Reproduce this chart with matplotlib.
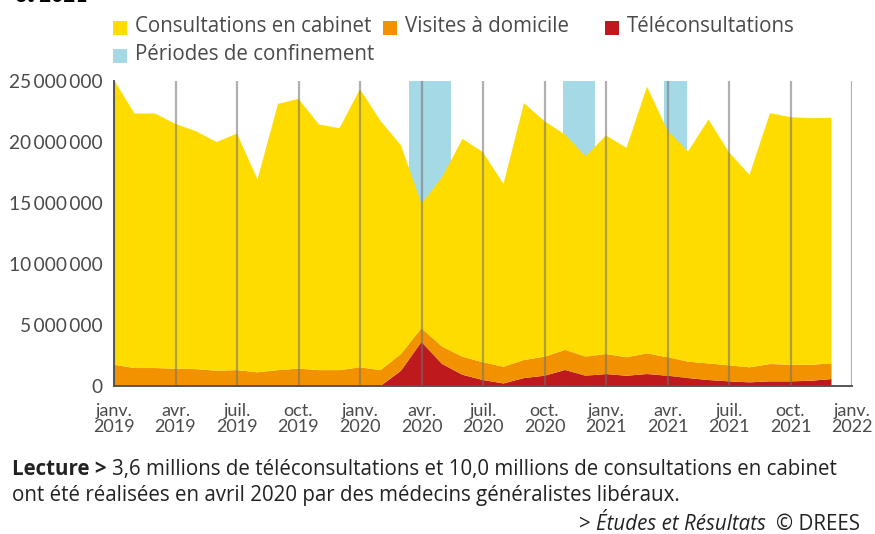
import matplotlib
matplotlib.use("Agg")
import matplotlib.pyplot as plt
from matplotlib.patches import Rectangle

plt.rcParams['font.family'] = ['Lato', 'DejaVu Sans']

# ---- data (millions) ----
months = list(range(36))  # janv. 2019 .. déc. 2021
teleconsultations = [0, 0, 0, 0, 0, 0, 0, 0, 0, 0, 0, 0,
                     0, 0, 1.25, 3.6, 1.8, 0.92, 0.49, 0.21, 0.65, 0.84, 1.31, 0.84,
                     0.98, 0.84, 0.98, 0.84, 0.65, 0.49, 0.38, 0.30, 0.38, 0.38, 0.43, 0.57]
visites = [1.74, 1.47, 1.47, 1.42, 1.38, 1.25, 1.30, 1.12, 1.30, 1.42, 1.30, 1.30,
           1.53, 1.30, 1.37, 1.10, 1.42, 1.48, 1.45, 1.37, 1.48, 1.56, 1.64, 1.56,
           1.64, 1.51, 1.69, 1.51, 1.34, 1.36, 1.31, 1.23, 1.42, 1.36, 1.31, 1.28]
cabinet = [23.31, 20.83, 20.83, 20.03, 19.47, 18.72, 19.36, 15.78, 21.79, 22.08, 20.10, 19.80,
           22.77, 20.40, 17.08, 10.20, 13.86, 17.83, 17.19, 14.96, 21.02, 19.27, 17.63, 16.40,
           17.88, 17.14, 21.83, 18.55, 17.20, 19.96, 17.44, 15.75, 20.53, 20.26, 20.18, 20.10]
confinements = [(14.4, 16.42), (21.92, 23.46), (26.83, 27.94)]
tick_pos = list(range(0, 37, 3))
tick_labels = ["janv.\n2019", "avr.\n2019", "juil.\n2019", "oct.\n2019",
               "janv.\n2020", "avr.\n2020", "juil.\n2020", "oct.\n2020",
               "janv.\n2021", "avr.\n2021", "juil.\n2021", "oct.\n2021", "janv.\n2022"]
y_ticks = [0, 5e6, 10e6, 15e6, 20e6, 25e6]
y_labels = ["0", "5\u2009000\u2009000", "10\u2009000\u2009000", "15\u2009000\u2009000",
            "20\u2009000\u2009000", "25\u2009000\u2009000"]
legend_labels = ["Consultations en cabinet", "Visites à domicile", "Téléconsultations",
                 "Périodes de confinement"]

c_cab, c_vis, c_tel, c_conf = "#FFDC00", "#F39200", "#BE1A1E", "#A6D9E6"
txt = "#4a4a4a"

W, H = 875, 534
fig = plt.figure(figsize=(8.75, 5.34), dpi=100)
ax = fig.add_axes([114/W, 1-386/H, (852-114)/W, (386-80.5)/H])

for (a, b) in confinements:
    ax.axvspan(a, b, color=c_conf, lw=0, zorder=0)

tel = [v*1e6 for v in teleconsultations]
vis = [v*1e6 for v in visites]
cab = [v*1e6 for v in cabinet]
ax.stackplot(months, tel, vis, cab, colors=[c_tel, c_vis, c_cab], lw=0, zorder=1)

for p in tick_pos:
    ax.axvline(p, color="#707070", alpha=0.55, lw=1.6, zorder=3)

ax.set_xlim(0, 36)
ax.set_ylim(0, 25e6)
ax.set_xticks(tick_pos)
ax.set_xticklabels(tick_labels, fontsize=13, color=txt, linespacing=1.0)
ax.set_yticks(y_ticks)
ax.set_yticklabels(y_labels, fontsize=13.8, color=txt)
ax.tick_params(length=0, pad=8)
ax.tick_params(axis='x', pad=12)
for s in ["top", "right"]:
    ax.spines[s].set_visible(False)
for s in ["left", "bottom"]:
    ax.spines[s].set_color("#555555")
    ax.spines[s].set_linewidth(1.4)
    ax.spines[s].set_zorder(4)

# ---- legend (manual) ----
leg_font = dict(family=['Open Sans', 'DejaVu Sans'], fontsize=14.8, color=txt, va="center")
leg_items = [(legend_labels[0], c_cab, 113, 28), (legend_labels[1], c_vis, 383, 28),
             (legend_labels[2], c_tel, 605, 28), (legend_labels[3], c_conf, 113, 56)]
for lab, col, x, y in leg_items:
    fig.patches.append(Rectangle((x/W, 1-(y+7)/H), 14/W, 14/H, transform=fig.transFigure,
                                 color=col, lw=0))
    fig.text((x+22)/W, 1-(y-1)/H, lab, **leg_font)

fig.text(15/W, 1-2/H, "et 2021", fontsize=15, fontweight="bold", va="baseline", ha="left")

# ---- footer ----
foot = dict(family=['Open Sans', 'DejaVu Sans'], fontsize=14.8, color="#222222", va="baseline")
fig.canvas.draw()
r = fig.canvas.get_renderer()
t1 = fig.text(12/W, 1-475/H, "Lecture >", fontweight="bold", **foot)
x1 = t1.get_window_extent(r).x1
fig.text((x1+5)/W, 1-475/H,
         "3,6 millions de téléconsultations et 10,0 millions de consultations en cabinet", **foot)
fig.text(12/W, 1-501/H, "ont été réalisées en avril 2020 par des médecins généralistes libéraux.", **foot)
t3 = fig.text(860/W, 1-530/H, "© DREES", ha="right", **foot)
x3 = t3.get_window_extent(r).x0
t4 = fig.text((x3-10)/W, 1-530/H, "Études et Résultats", ha="right", style="italic", **foot)
x4 = t4.get_window_extent(r).x0
fig.text((x4-5)/W, 1-530/H, ">", ha="right", **foot)

fig.savefig("out.png", dpi=100)
